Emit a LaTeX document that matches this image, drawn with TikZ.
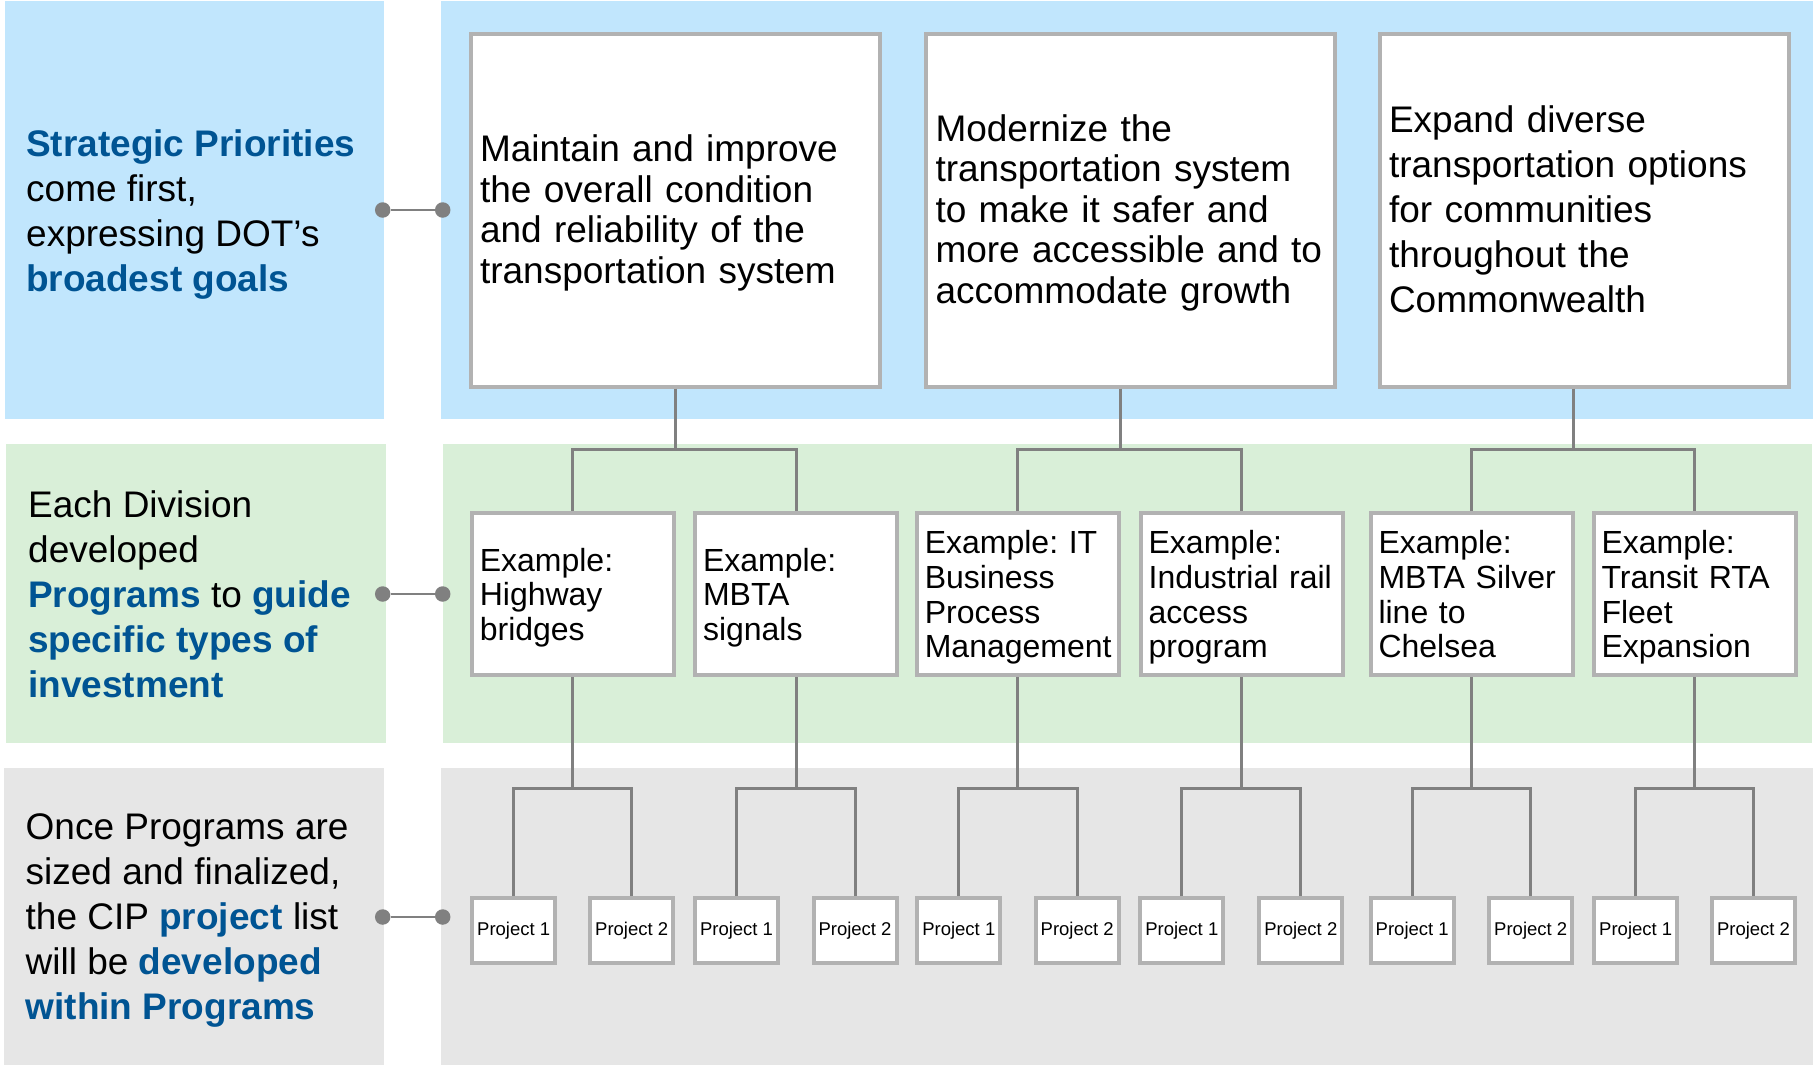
\documentclass[tikz,border=0pt]{standalone}
\usepackage{fontspec}
\setmainfont{Liberation Sans}
\frenchspacing

\definecolor{skyband}{RGB}{193,230,253}
\definecolor{leafband}{RGB}{217,239,216}
\definecolor{greyband}{RGB}{230,230,230}
\definecolor{dotblue}{RGB}{0,84,147}
\definecolor{boxedge}{RGB}{178,178,178}
\definecolor{linkgray}{RGB}{128,128,128}

\newcommand{\kw}[1]{\textcolor{dotblue}{\textbf{#1}}}

\begin{document}
\begin{tikzpicture}[x=1pt,y=-1pt,
    goal/.style={draw=boxedge,line width=4pt,fill=white,minimum width=409pt,minimum height=352pt,text width=390pt,inner xsep=9.5pt,align=left,font=\fontsize{37}{40.5}\selectfont,execute at begin node={\rule{0pt}{31.5pt}},execute at end node={\rule[-7.8pt]{0pt}{7.8pt}}},
    prog/.style={draw=boxedge,line width=4pt,fill=white,minimum width=202pt,minimum height=162pt,text width=186pt,inner xsep=8pt,align=left,font=\fontsize{32}{34.7}\selectfont,execute at begin node={\rule{0pt}{30.5pt}},execute at end node={\rule[-6.7pt]{0pt}{6.7pt}}},
    proj/.style={draw=boxedge,line width=4pt,fill=white,minimum width=83pt,minimum height=65pt,inner sep=0pt,font=\fontsize{18.5}{20}\selectfont},
    note/.style={anchor=west,align=left,inner sep=0pt,font=\fontsize{37}{45}\selectfont},
    dot/.style={circle,fill=linkgray,minimum size=15.5pt,inner sep=0pt},
    link/.style={draw=linkgray,line width=2.5pt},
    tree/.style={draw=linkgray,line width=3pt}]

    \useasboundingbox[fill=white] (0,0) rectangle (1815,1065);

    % Bands
    \fill[skyband] (4.5,1) rectangle (383.5,419);
    \fill[skyband] (441,1) rectangle (1813,419);
    \fill[leafband] (5.7,444) rectangle (386,742.5);
    \fill[leafband] (443,444) rectangle (1812,742.5);
    \fill[greyband] (4,768) rectangle (383.5,1065);
    \fill[greyband] (441,768) rectangle (1813,1065);

    % Side notes
    \node[note] (L1) at (26,214.6) {\kw{Strategic Priorities}\\come first,\\expressing DOT’s\\\kw{broadest goals}};
    \node[note] (L2) at (28,594) {Each Division\\developed\\\kw{Programs} to \kw{guide}\\\kw{specific types of}\\\kw{investment}};
    \node[note] (L3) at (25.5,920.5) {Once Programs are\\sized and finalized,\\the CIP \kw{project} list\\will be \kw{developed}\\\kw{within Programs}};

    % Strategic priorities
    \node[goal] (G1) at (675,210.5) {Maintain and improve\\the overall condition\\and reliability of the\\transportation system};
    \node[goal] (G2) at (1130.5,210.5) {Modernize the\\transportation system\\to make it safer and\\more accessible and to\\accommodate growth};
    \node[goal,font=\fontsize{37}{45}\selectfont] (G3) at (1584,210.5) {Expand diverse\\transportation options\\for communities\\throughout the\\Commonwealth};

    % Programs
    \node[prog] (P1) at (572.8,594) {Example:\\Highway\\bridges};
    \node[prog] (P2) at (796,594) {Example:\\MBTA\\signals};
    \node[prog] (P3) at (1017.8,594) {Example: IT\\Business\\Process\\Management};
    \node[prog] (P4) at (1241.6,594) {Example:\\Industrial rail\\access\\program};
    \node[prog] (P5) at (1471.5,594) {Example:\\MBTA Silver\\line to\\Chelsea};
    \node[prog] (P6) at (1694.5,594) {Example:\\Transit RTA\\Fleet\\Expansion};

    % Projects
    \node[proj] (P1a) at (513.7,930.5) {Project 1};
    \node[proj] (P1b) at (631.7,930.5) {Project 2};
    \node[proj] (P2a) at (736.5,930.5) {Project 1};
    \node[proj] (P2b) at (855,930.5) {Project 2};
    \node[proj] (P3a) at (958.8,930.5) {Project 1};
    \node[proj] (P3b) at (1077.2,930.5) {Project 2};
    \node[proj] (P4a) at (1181.8,930.5) {Project 1};
    \node[proj] (P4b) at (1300.8,930.5) {Project 2};
    \node[proj] (P5a) at (1412.2,930.5) {Project 1};
    \node[proj] (P5b) at (1530.7,930.5) {Project 2};
    \node[proj] (P6a) at (1635.7,930.5) {Project 1};
    \node[proj] (P6b) at (1753.5,930.5) {Project 2};

    % Side links
    \node[dot] (D1a) at (382.7,210) {};
    \node[dot] (D1b) at (442.7,210) {};
    \node[dot] (D2a) at (382.7,594) {};
    \node[dot] (D2b) at (442.7,594) {};
    \node[dot] (D3a) at (382.7,917) {};
    \node[dot] (D3b) at (442.7,917) {};
    \path[link] (D1a) -- (D1b);
    \path[link] (D2a) -- (D2b);
    \path[link] (D3a) -- (D3b);

    % Priorities to programs
    \coordinate (T1) at (675,449);
    \coordinate (T2) at (1120,449);
    \coordinate (T3) at (1573,449);
    \draw[tree] (T1 |- G1.south) -- (T1) (P1.north) |- (T1) -| (P2.north);
    \draw[tree] (T2 |- G2.south) -- (T2) (P3.north) |- (T2) -| (P4.north);
    \draw[tree] (T3 |- G3.south) -- (T3) (P5.north) |- (T3) -| (P6.north);

    % Programs to projects
    \coordinate (low) at (0,788);
    \draw[tree] (P1.south) -- (P1.south |- low) (P1a.north) |- (P1.south |- low) -| (P1b.north);
    \draw[tree] (P2.south) -- (P2.south |- low) (P2a.north) |- (P2.south |- low) -| (P2b.north);
    \draw[tree] (P3.south) -- (P3.south |- low) (P3a.north) |- (P3.south |- low) -| (P3b.north);
    \draw[tree] (P4.south) -- (P4.south |- low) (P4a.north) |- (P4.south |- low) -| (P4b.north);
    \draw[tree] (P5.south) -- (P5.south |- low) (P5a.north) |- (P5.south |- low) -| (P5b.north);
    \draw[tree] (P6.south) -- (P6.south |- low) (P6a.north) |- (P6.south |- low) -| (P6b.north);

\end{tikzpicture}
\end{document}
